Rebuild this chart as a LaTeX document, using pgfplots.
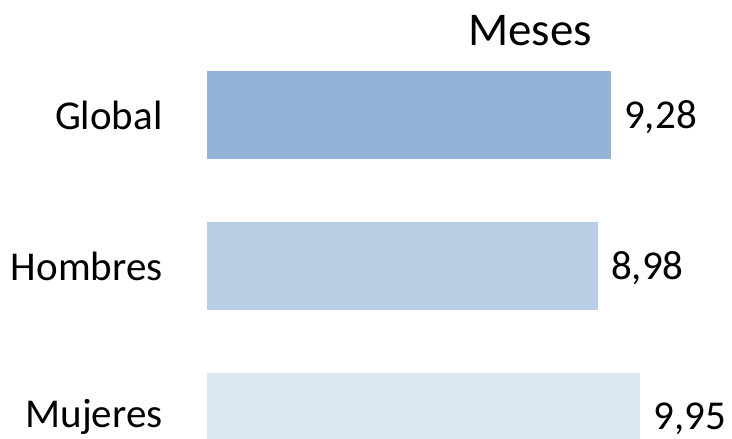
\documentclass[border=0pt]{standalone}
\usepackage{pgfplots}
\pgfplotsset{compat=1.18}
\usepackage{fontspec}
\setmainfont{Carlito}
\definecolor{cGlobal}{HTML}{95B3D7}
\definecolor{cHombres}{HTML}{B9CDE5}
\definecolor{cMujeres}{HTML}{DCE6F2}
\begin{document}
\begin{tikzpicture}[x=1pt,y=1pt]
\clip (0,0) rectangle (732,439);
\path[use as bounding box] (0,0) rectangle (732,439);
\begin{axis}[
  at={(207pt,-53.5pt)}, anchor=south west,
  scale only axis, width=522.4pt, height=453pt,
  xbar, bar width=88pt,
  xmin=0, xmax=12, ymin=-0.5, ymax=2.5,
  axis line style={draw=none},
  major tick style={draw=none},
  xtick=\empty,
  ytick={0,1,2},
  yticklabels={Mujeres,Hombres,Global},
  yticklabel style={font=\fontsize{41}{49}\selectfont, inner sep=0pt, xshift=-40pt},
  nodes near coords,
  every node near coord/.append style={font=\fontsize{41}{49}\selectfont, inner sep=0pt, xshift=13pt, yshift=-2pt, anchor=west, text=black},
  /pgf/number format/.cd, use comma, fixed, fixed zerofill, precision=2, assume math mode=true,
]
\addplot[draw=none, fill=cGlobal, bar shift=0pt] coordinates {(9.28,2)};
\addplot[draw=none, fill=cHombres, bar shift=0pt] coordinates {(8.98,1)};
\addplot[draw=none, fill=cMujeres, bar shift=0pt] coordinates {(9.95,0)};
\end{axis}
\node[font=\fontsize{47}{56}\selectfont, inner sep=0pt] at (530,408) {Meses};
\end{tikzpicture}
\end{document}
